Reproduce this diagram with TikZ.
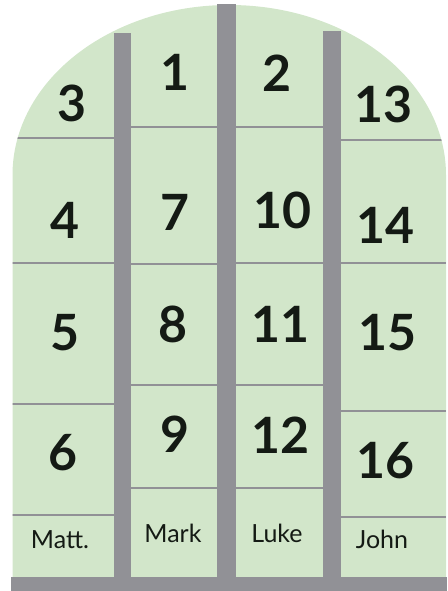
\documentclass[tikz,border=0pt]{standalone}
\usepackage{fontspec}
\setmainfont{Lato}
\usetikzlibrary{positioning}

\definecolor{panegreen}{RGB}{210,230,202}
\definecolor{leadgray}{RGB}{145,145,150}
\definecolor{inkblack}{RGB}{20,26,20}

\begin{document}
\begin{tikzpicture}[x=1pt, y=1pt,
        bar/.style={fill=leadgray, draw=none},
        rule/.style={draw=leadgray, line width=2.5pt},
        num/.style={inner sep=0pt, text=inkblack, font=\fontsize{50}{50}\selectfont\bfseries},
        book/.style={inner sep=0pt, text=inkblack, font=\fontsize{25}{25}\selectfont}
    ]
        \useasboundingbox (0,0) rectangle (447,591);

        % Window
        \fill[panegreen] (12.5,14) -- (12.5,416) arc[start angle=180, end angle=0, x radius=216.75, y radius=170] -- (446,14) -- cycle;

        % Pane rules
        \begin{scope}
            \clip (12.5,14) -- (12.5,416) arc[start angle=180, end angle=0, x radius=216.75, y radius=170] -- (446,14) -- cycle;
            \foreach \y in {453, 328, 187, 76} \draw[rule] (0,\y) -- (114,\y);
            \foreach \y in {464, 327, 206, 103} \draw[rule] (131,\y) -- (217,\y);
            \foreach \y in {464, 328, 206, 103} \draw[rule] (236,\y) -- (323,\y);
            \foreach \y in {451, 328, 180, 74} \draw[rule] (341,\y) -- (447,\y);
        \end{scope}

        % Lead bars
        \fill[bar] (114,14) rectangle (131,558);
        \fill[bar] (217,14) rectangle (236,587);
        \fill[bar] (323,14) rectangle (341,560);
        \fill[bar] (11,0) rectangle (447,14);

        % Column 1
        \node[num] (p3) at (72,488) {3};
        \node[num] (p4) at (65,371) {4};
        \node[num] (p5) at (65,258) {5};
        \node[num] (p6) at (63,138) {6};
        \node[book] (matt) at (60,51) {Matt.};

        % Column 2
        \node[num] (p1) at (175,519) {1};
        \node[num] (p7) at (175,379) {7};
        \node[num] (p8) at (173,267) {8};
        \node[num] (p9) at (175,157) {9};
        \node[book] (mark) at (173,58) {Mark};

        % Column 3
        \node[num] (p2) at (277,518) {2};
        \node[num] (p10) at (282,381) {10};
        \node[num] (p11) at (280,267) {11};
        \node[num] (p12) at (280,156) {12};
        \node[book] (luke) at (277,58) {Luke};

        % Column 4
        \node[num] (p13) at (383,487) {13};
        \node[num] (p14) at (385,366) {14};
        \node[num] (p15) at (387,258) {15};
        \node[num] (p16) at (385,130) {16};
        \node[book] (john) at (382,52) {John};
    \end{tikzpicture}
\end{document}
